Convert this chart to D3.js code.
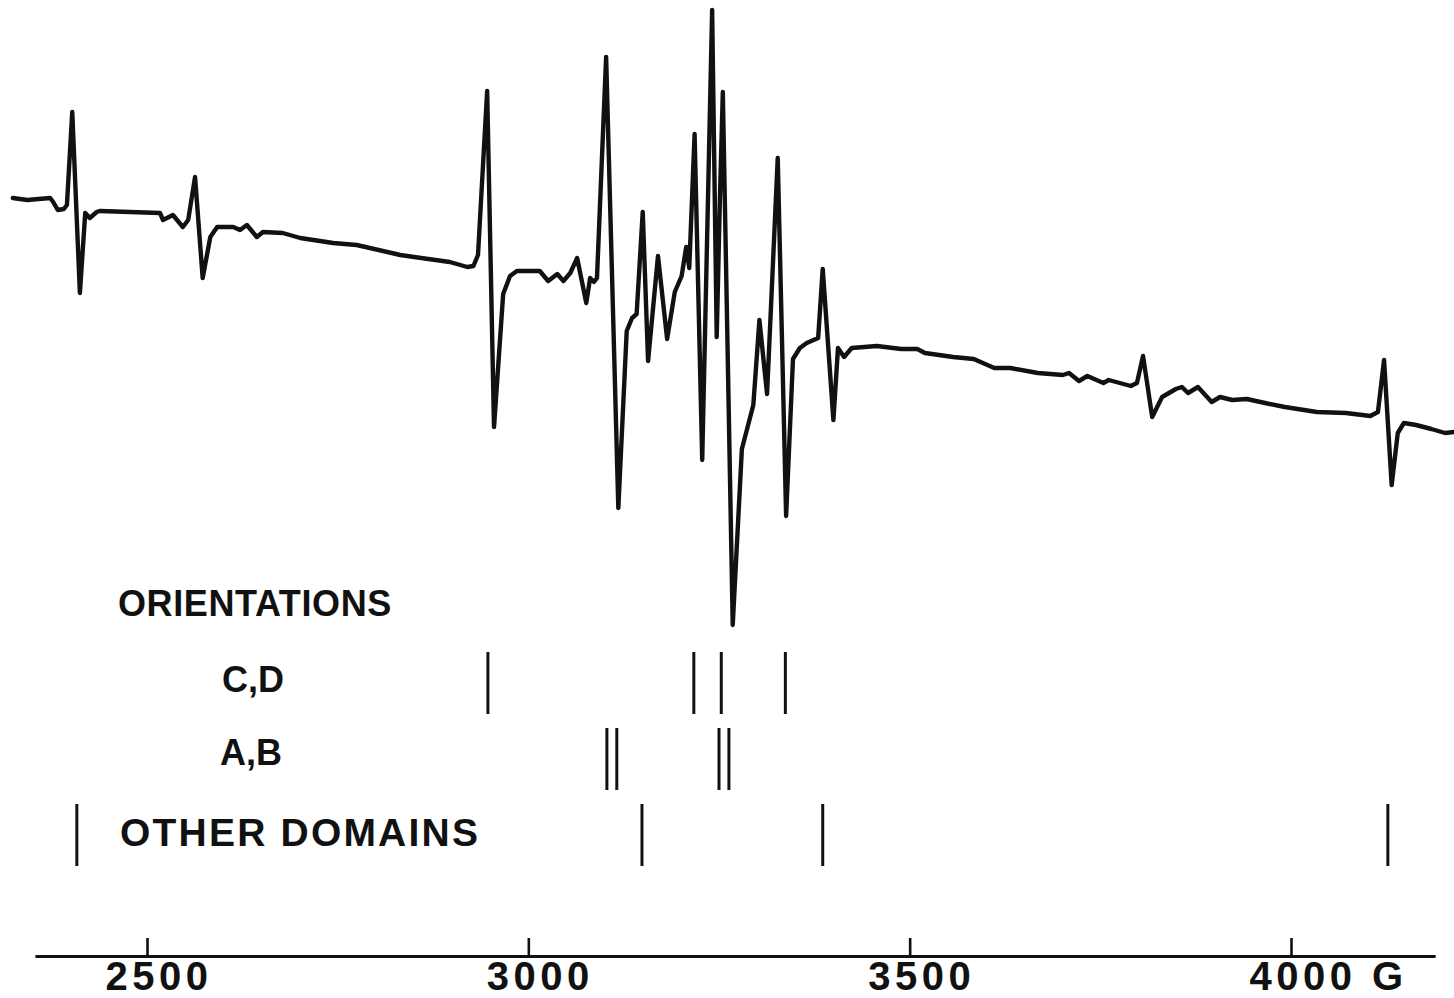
<!DOCTYPE html>
<html>
<head>
<meta charset="utf-8">
<script src="https://cdn.jsdelivr.net/npm/d3@7"></script>
<style>
  body { margin: 0; background: #fff; }
  svg text { font-family: "Liberation Sans", Arial, sans-serif; font-weight: bold; fill: #111; }
</style>
</head>
<body>
<div id="chart"></div>
<script>
// magnetic field (G) and recorder deflection (arb. units)
var field = [2324, 2343, 2373, 2377, 2383, 2391, 2395, 2402, 2412, 2419, 2425, 2434, 2438, 2478,
    2517, 2521, 2534, 2547, 2554, 2563, 2573, 2583, 2592, 2613, 2622, 2631, 2644, 2652, 2678,
    2701, 2744, 2775, 2832, 2897, 2920, 2928, 2934, 2946, 2955, 2967, 2976, 2985, 3015, 3026,
    3038, 3046, 3055, 3064, 3076, 3081, 3086, 3090, 3102, 3118, 3129, 3136, 3142, 3150, 3157,
    3170, 3182, 3192, 3201, 3207, 3211, 3218, 3228, 3241, 3247, 3251, 3255, 3268, 3280, 3295,
    3303, 3313, 3327, 3338, 3347, 3356, 3365, 3380, 3386, 3400, 3406, 3414, 3424, 3457, 3489,
    3510, 3520, 3557, 3584, 3611, 3632, 3668, 3701, 3709, 3722, 3733, 3754, 3761, 3790, 3798,
    3806, 3818, 3831, 3849, 3857, 3865, 3878, 3896, 3907, 3923, 3942, 3966, 3992, 4034, 4072,
    4104, 4114, 4122, 4132, 4140, 4148, 4164, 4184, 4202, 4214];
var signal = [302, 300, 302, 298, 290, 291, 295, 388, 207, 287, 282, 288, 289, 288,
    287, 280, 285, 273, 280, 323, 222, 263, 273, 273, 270, 275, 263, 268, 267,
    262, 257, 255, 245, 238, 233, 234, 245, 409, 73, 206, 224, 229, 229, 219,
    226, 219, 227, 242, 197, 222, 218, 222, 443, -8, 169, 182, 186, 288, 139,
    244, 161, 208, 224, 253, 232, 366, 40, 490, 163, 295, 408, -125, 51, 95,
    180, 106, 342, -16, 141, 152, 157, 162, 231, 80, 152, 143, 152, 154, 151,
    151, 147, 143, 141, 132, 132, 127, 125, 127, 119, 124, 117, 120, 114, 117,
    144, 83, 103, 111, 113, 107, 113, 98, 103, 100, 101, 97, 93, 88, 87,
    84, 88, 140, 15, 67, 77, 75, 71, 67, 68];

var tickValues = [2500, 3000, 3500, 4000];
var axisExtent = [2353, 4189];

var cdLines = [2947, 3217, 3253, 3337];
var abLines = [3103, 3116, 3250, 3263];
var otherLines = [2408, 3149, 3386, 4127];

var rowNames = ['C,D', 'A,B', 'OTHER DOMAINS'];

var W = 1454, H = 998;

var svg = d3.select('#chart').append('svg')
    .attr('width', W)
    .attr('height', H)
    .style('background', '#fff');

// scales: 2500 G sits at 147 px, 4000 G at 1291 px
var x = d3.scaleLinear().domain([2500, 4000]).range([147, 1291]);
var y = d3.scaleLinear().domain([-150, 500]).range([650, 0]);

// spectrum trace
var pts = field.map(function (f, i) { return [f, signal[i]]; });
var line = d3.line()
    .x(function (d) { return x(d[0]); })
    .y(function (d) { return y(d[1]); });

svg.append('path')
    .datum(pts)
    .attr('d', line)
    .attr('fill', 'none')
    .attr('stroke', '#111')
    .attr('stroke-width', 4.4)
    .attr('stroke-linejoin', 'round')
    .attr('stroke-linecap', 'round');

// orientation sticks
var rowY = d3.scalePoint().domain(rowNames).range([683, 835]);
var rows = [
    {name: 'C,D', lines: cdLines, lx: 222, dy: 9, size: 36, ls: 0},
    {name: 'A,B', lines: abLines, lx: 220, dy: 6, size: 36, ls: 0},
    {name: 'OTHER DOMAINS', lines: otherLines, lx: 120, dy: 11, size: 39, ls: 2.2}
];

svg.append('text')
    .attr('x', 118)
    .attr('y', 616)
    .attr('font-size', 36)
    .attr('letter-spacing', 0.6)
    .text('ORIENTATIONS');

rows.forEach(function (r) {
    var g = svg.append('g');
    var cy = rowY(r.name);
    g.selectAll('line')
        .data(r.lines)
        .enter().append('line')
        .attr('x1', function (d) { return x(d); })
        .attr('x2', function (d) { return x(d); })
        .attr('y1', cy - 31)
        .attr('y2', cy + 31)
        .attr('stroke', '#111')
        .attr('stroke-width', 3);
    g.append('text')
        .attr('x', r.lx)
        .attr('y', cy + r.dy)
        .attr('font-size', r.size)
        .attr('letter-spacing', r.ls)
        .text(r.name);
});

// field axis, ticks pointing up
var ax = x.copy().domain(axisExtent).range(axisExtent.map(x));
var axis = d3.axisBottom(ax)
    .tickValues(tickValues)
    .tickSizeInner(-18)
    .tickSizeOuter(0)
    .tickPadding(6)
    .tickFormat(function (d) { return d === 4000 ? d + ' G' : d; });

var gx = svg.append('g')
    .attr('transform', 'translate(0,956)')
    .call(axis);
gx.select('.domain').attr('stroke', '#111').attr('stroke-width', 3);
gx.selectAll('.tick line').attr('stroke', '#111').attr('stroke-width', 2.6);
gx.selectAll('.tick text')
    .attr('text-anchor', 'start')
    .attr('dx', -42)
    .attr('font-size', 40)
    .attr('letter-spacing', 4.5)
    .attr('fill', '#111')
    .style('font-family', '"Liberation Sans", Arial, sans-serif')
    .style('font-weight', 'bold');
</script>
</body>
</html>
